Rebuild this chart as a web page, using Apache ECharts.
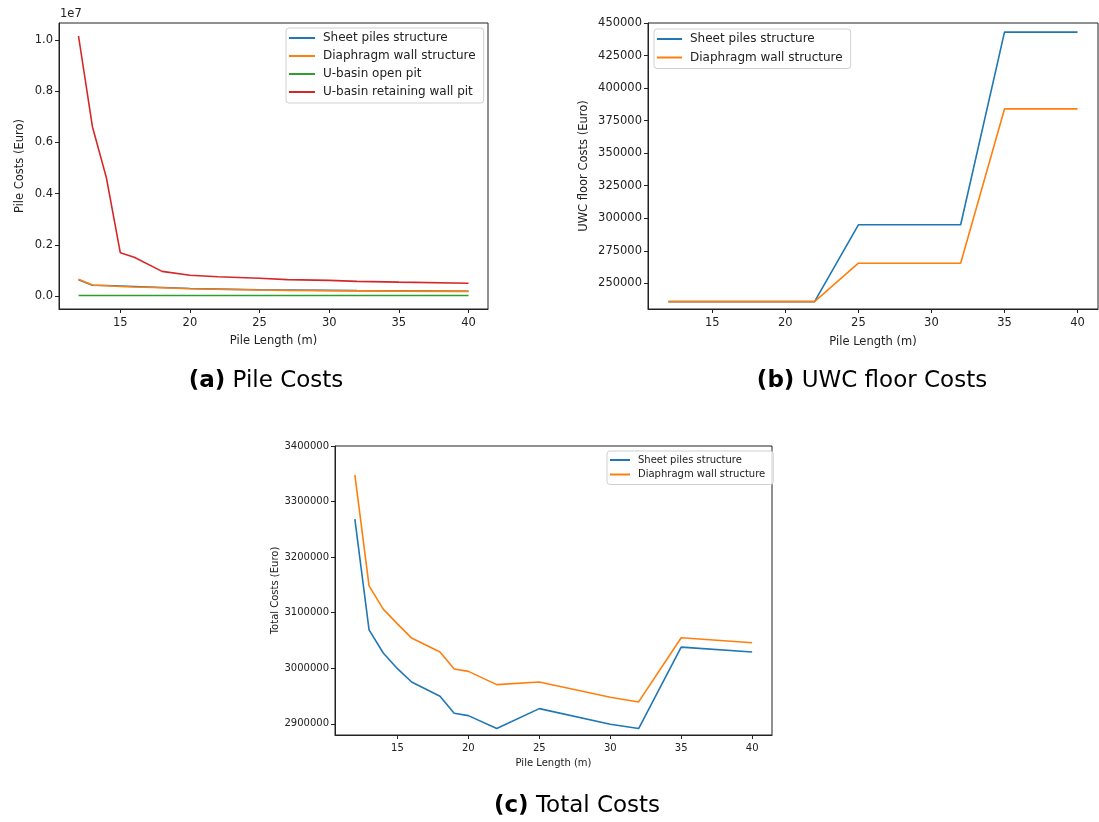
<!DOCTYPE html>
<html>
<head>
<meta charset="utf-8">
<script src="https://cdn.jsdelivr.net/npm/echarts@6/dist/echarts.min.js"></script>
<style>
  html, body { margin: 0; padding: 0; background: #fff; }
  #main { width: 1099px; height: 822px; }
</style>
</head>
<body>
<div id="main"></div>
<script>
// pile length (m) per panel
var lenA = [12, 13, 14, 15, 16, 18, 20, 22, 25, 27, 30, 32, 35, 40];
var lenB = [12, 22, 25, 32, 35, 40];
var lenC = [12, 13, 14, 15, 16, 18, 19, 20, 22, 25, 30, 32, 35, 40];

// (a) pile costs
var pileSheet  = [630000, 420000, 410000, 390000, 370000, 330000, 290000, 270000, 245000, 235000, 220000, 210000, 200000, 185000];
var pileWall   = [650000, 430000, 400000, 370000, 350000, 320000, 285000, 265000, 235000, 220000, 205000, 200000, 190000, 180000];
var pileOpen   = [20000, 20000, 20000, 20000, 20000, 20000, 20000, 20000, 20000, 20000, 20000, 20000, 20000, 20000];
var pileRetain = [10150000, 6610000, 4620000, 1690000, 1510000, 960000, 810000, 750000, 690000, 640000, 610000, 570000, 540000, 500000];

// (b) UWC floor costs
var uwcSheet = [236000, 236000, 295000, 295000, 443000, 443000];
var uwcWall  = [236000, 236000, 265500, 265500, 384000, 384000];

// (c) total costs
var totalSheet = [3268600, 3069300, 3027500, 2999300, 2975400, 2949600, 2919000, 2914900, 2891600, 2927500, 2899300, 2891600, 3038200, 3029300];
var totalWall  = [3348000, 3148300, 3106500, 3080000, 3054400, 3029300, 2998700, 2994500, 2970600, 2975400, 2947800, 2939500, 3054900, 3046000];

// tick labels
var xTicks = [15, 20, 25, 30, 35, 40];
var yTicksA = [0, 2000000, 4000000, 6000000, 8000000, 10000000];
var yTicksB = [250000, 275000, 300000, 325000, 350000, 375000, 400000, 425000, 450000];
var yTicksC = [2900000, 3000000, 3100000, 3200000, 3300000, 3400000];

var names = ['Sheet piles structure', 'Diaphragm wall structure', 'U-basin open pit', 'U-basin retaining wall pit'];
var colors = ['#1f77b4', '#ff7f0e', '#2ca02c', '#d62728'];
var font = 'DejaVu Sans';
var ink = '#222';

function pairs(xs, ys) {
    return xs.map(function (x, i) { return [x, ys[i]]; });
}

function plain(v) {
    return String(v);
}

function xAxisFor(idx, size, gap) {
    return {
        type: 'value', gridIndex: idx, min: 10.6, max: 41.4,
        name: 'Pile Length (m)', nameLocation: 'middle', nameGap: gap,
        nameTextStyle: { fontFamily: font, fontSize: size, color: ink },
        axisLine: { show: true, onZero: false, lineStyle: { color: ink, width: 1 } },
        axisTick: { show: true, length: 4, customValues: xTicks, lineStyle: { color: ink } },
        axisLabel: { fontFamily: font, fontSize: size, color: ink, margin: 8, customValues: xTicks },
        splitLine: { show: false }
    };
}

function yAxisFor(idx, min, max, ticks, name, size, gap, fmt) {
    return {
        type: 'value', gridIndex: idx, min: min, max: max,
        name: name, nameLocation: 'middle', nameGap: gap, nameRotate: 90,
        nameTextStyle: { fontFamily: font, fontSize: size, color: ink },
        axisLine: { show: true, onZero: false, lineStyle: { color: ink, width: 1 } },
        axisTick: { show: true, length: 4, customValues: ticks, lineStyle: { color: ink } },
        axisLabel: { fontFamily: font, fontSize: size, color: ink, margin: 6, customValues: ticks, formatter: fmt },
        splitLine: { show: false }
    };
}

function lineSeries(name, color, idx, data) {
    return {
        name: name, type: 'line', xAxisIndex: idx, yAxisIndex: idx,
        data: data, symbol: 'none', animation: false,
        lineStyle: { color: color, width: 1.6 },
        itemStyle: { color: color }
    };
}

function legendFor(left, top, items, size, w, gap) {
    return {
        left: left, top: top, orient: 'vertical',
        data: items, icon: 'rect', itemWidth: w, itemHeight: 2, itemGap: gap,
        padding: [4, 8, 5, 3],
        backgroundColor: 'rgba(255,255,255,0.8)',
        borderColor: '#d0d0d0', borderWidth: 1, borderRadius: 3,
        selectedMode: false,
        textStyle: { fontFamily: font, fontSize: size, color: ink, padding: [0, 0, 0, 3] }
    };
}

function caption(cx, cy, tag, label) {
    return {
        type: 'text', x: cx, y: cy,
        style: {
            text: '{b|' + tag + '} ' + label, fontFamily: font, fontSize: 23, fill: '#000',
            align: 'center', verticalAlign: 'middle',
            rich: { b: { fontFamily: font, fontSize: 23, fontWeight: 'bold', fill: '#000' } }
        }
    };
}

var myChart = echarts.init(document.getElementById('main'));
var option = {
    backgroundColor: '#fff',
    animation: false,
    grid: [
        { left: 59, top: 23, width: 429, height: 286, show: true, borderColor: ink, borderWidth: 1 },
        { left: 648, top: 23, width: 450, height: 286, show: true, borderColor: ink, borderWidth: 1 },
        { left: 335, top: 446, width: 437, height: 289, show: true, borderColor: ink, borderWidth: 1 }
    ],
    xAxis: [
        xAxisFor(0, 11.5, 26),
        xAxisFor(1, 11.5, 27),
        xAxisFor(2, 10, 23)
    ],
    yAxis: [
        yAxisFor(0, -507500, 10657500, yTicksA, 'Pile Costs (Euro)', 11.5, 33,
            function (v) { return (v / 1e7).toFixed(1); }),
        yAxisFor(1, 230300, 450000, yTicksB, 'UWC floor Costs (Euro)', 11.5, 58, plain),
        yAxisFor(2, 2880000, 3400000, yTicksC, 'Total Costs (Euro)', 10, 47, plain)
    ],
    legend: [
        legendFor(286, 28, names, 12, 26, 6),
        legendFor(654, 29, names.slice(0, 2), 12, 25, 6.5),
        legendFor(607, 451, names.slice(0, 2), 10, 20, 4.5)
    ],
    graphic: [
        { type: 'text', left: 60, top: 8, style: { text: '1e7', fontFamily: font, fontSize: 11.5, fill: ink } },
        caption(266, 381, '(a)', 'Pile Costs'),
        caption(872, 381, '(b)', 'UWC floor Costs'),
        caption(577, 806, '(c)', 'Total Costs')
    ],
    series: [
        lineSeries(names[0], colors[0], 0, pairs(lenA, pileSheet)),
        lineSeries(names[1], colors[1], 0, pairs(lenA, pileWall)),
        lineSeries(names[2], colors[2], 0, pairs(lenA, pileOpen)),
        lineSeries(names[3], colors[3], 0, pairs(lenA, pileRetain)),
        lineSeries(names[0], colors[0], 1, pairs(lenB, uwcSheet)),
        lineSeries(names[1], colors[1], 1, pairs(lenB, uwcWall)),
        lineSeries(names[0], colors[0], 2, pairs(lenC, totalSheet)),
        lineSeries(names[1], colors[1], 2, pairs(lenC, totalWall))
    ]
};
myChart.setOption(option);
</script>
</body>
</html>
